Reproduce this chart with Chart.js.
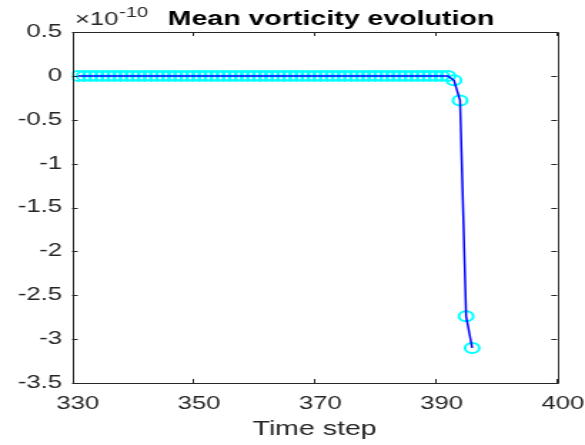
<!DOCTYPE html>
<html><head><meta charset="utf-8">
<script src="https://cdn.jsdelivr.net/npm/chart.js@4/dist/chart.umd.min.js"></script>
<style>
html,body{margin:0;padding:0;background:#fff;overflow:hidden;width:585px;height:445px}
#wrap{position:absolute;left:0;top:0;width:410px;height:445px;transform:scaleX(1.4268);transform-origin:0 0}
</style></head><body>
<div id="wrap"><canvas id="c"></canvas></div>
<script>
// ---- data (values in units of 1e-10) ----
const timeSteps = [
  331,332,333,334,335,336,337,338,339,340,
  341,342,343,344,345,346,347,348,349,350,
  351,352,353,354,355,356,357,358,359,360,
  361,362,363,364,365,366,367,368,369,370,
  371,372,373,374,375,376,377,378,379,380,
  381,382,383,384,385,386,387,388,389,390,
  391,392,393,394,395,396
];
const meanVorticity = [
  0,0,0,0,0,0,0,0,0,0,
  0,0,0,0,0,0,0,0,0,0,
  0,0,0,0,0,0,0,0,0,0,
  0,0,0,0,0,0,0,0,0,0,
  0,0,0,0,0,0,0,0,0,0,
  0,0,0,0,0,0,0,0,0,0,
  0,0,-0.05,-0.28,-2.74,-3.10
];
const xTickValues = [330,350,370,390,410];
const xTickLabels = ['330','350','370','390','400'];
const yTickValues = [0.5,0,-0.5,-1,-1.5,-2,-2.5,-3,-3.5];
const titleText = 'Mean vorticity evolution';
const xAxisTitle = 'Time step';
const exponentBase = '\u00d710';
const exponentPower = '-10';

const FONT = '"Liberation Sans", Arial, Helvetica, sans-serif';
const AXIS_COLOR = '#262626';

const points = timeSteps.map((t,i)=>({x:t,y:meanVorticity[i]}));

const matlabAxes = {
  id:'matlabAxes',
  afterDatasetsDraw(chart){
    const ctx = chart.ctx, a = chart.chartArea;
    const xs = chart.scales.x, ys = chart.scales.y;
    ctx.save();
    ctx.strokeStyle = AXIS_COLOR;
    ctx.lineWidth = 1;
    ctx.beginPath();
    ctx.rect(Math.round(a.left)+0.5, Math.round(a.top)+0.5, Math.round(a.right-a.left), Math.round(a.bottom-a.top));
    ctx.stroke();
    const tl = 4;
    ctx.beginPath();
    xTickValues.forEach(v=>{
      const px = Math.round(xs.getPixelForValue(v))+0.5;
      ctx.moveTo(px, a.bottom); ctx.lineTo(px, a.bottom - tl);
      ctx.moveTo(px, a.top); ctx.lineTo(px, a.top + tl);
    });
    yTickValues.forEach(v=>{
      const py = Math.round(ys.getPixelForValue(v))+0.5;
      ctx.moveTo(a.left, py); ctx.lineTo(a.left + tl, py);
      ctx.moveTo(a.right, py); ctx.lineTo(a.right - tl, py);
    });
    ctx.stroke();
    ctx.restore();
  },
  afterDraw(chart){
    const ctx = chart.ctx;
    ctx.save();
    ctx.textBaseline = 'alphabetic';
    ctx.fillStyle = '#000';
    ctx.font = 'bold 20px ' + FONT;
    ctx.textAlign = 'center';
    ctx.fillText(titleText, 232, 25);
    ctx.fillStyle = AXIS_COLOR;
    ctx.textAlign = 'left';
    ctx.font = '18px ' + FONT;
    ctx.fillText(exponentBase, 52.5, 25);
    const w = ctx.measureText(exponentBase).width;
    ctx.font = '14px ' + FONT;
    ctx.fillText(exponentPower, 52.5 + w + 0.5, 17);
    ctx.restore();
  }
};

new Chart(document.getElementById('c'), {
  type:'line',
  data:{
    datasets:[
      {
        label:'line', data:points, borderColor:'#0000ff', borderWidth:1.5,
        pointRadius:0, fill:false, tension:0, order:0
      },
      {
        label:'markers', data:points, showLine:false,
        pointStyle:'circle', pointRadius:5, pointBorderWidth:2,
        pointBorderColor:'#00ffff', pointBackgroundColor:'rgba(0,0,0,0)',
        borderColor:'#00ffff', order:1
      }
    ]
  },
  options:{
    responsive:true, maintainAspectRatio:false, animation:false,
    devicePixelRatio:1,
    layout:{padding:{top:32, right:19.6, left:0, bottom:0}},
    plugins:{legend:{display:false}, title:{display:false}, tooltip:{enabled:false}},
    scales:{
      x:{
        type:'linear', min:330, max:410,
        afterBuildTicks(s){ s.ticks = xTickValues.map(v=>({value:v})); },
        afterFit(s){ s.height = 62; s.paddingLeft = 0; s.paddingRight = 0; },
        grid:{display:false, drawTicks:false},
        border:{display:false},
        ticks:{
          padding:10, labelOffset:4, color:AXIS_COLOR, font:{family:FONT, size:18},
          maxRotation:0, autoSkip:false,
          callback(v){ const i = xTickValues.indexOf(v); return i>=0 ? xTickLabels[i] : ''; }
        },
        title:{display:true, text:xAxisTitle, color:AXIS_COLOR, font:{family:FONT, size:20}, padding:{top:5}}
      },
      y:{
        type:'linear', min:-3.5, max:0.5,
        afterBuildTicks(s){ s.ticks = yTickValues.map(v=>({value:v})); },
        afterFit(s){ s.width = 50.5; s.paddingTop = 0; s.paddingBottom = 0; },
        grid:{display:false, drawTicks:false},
        border:{display:false},
        ticks:{
          padding:7, color:AXIS_COLOR, font:{family:FONT, size:18},
          autoSkip:false,
          callback(v){ return String(v); }
        }
      }
    }
  },
  plugins:[matlabAxes]
});
</script>
</body></html>
